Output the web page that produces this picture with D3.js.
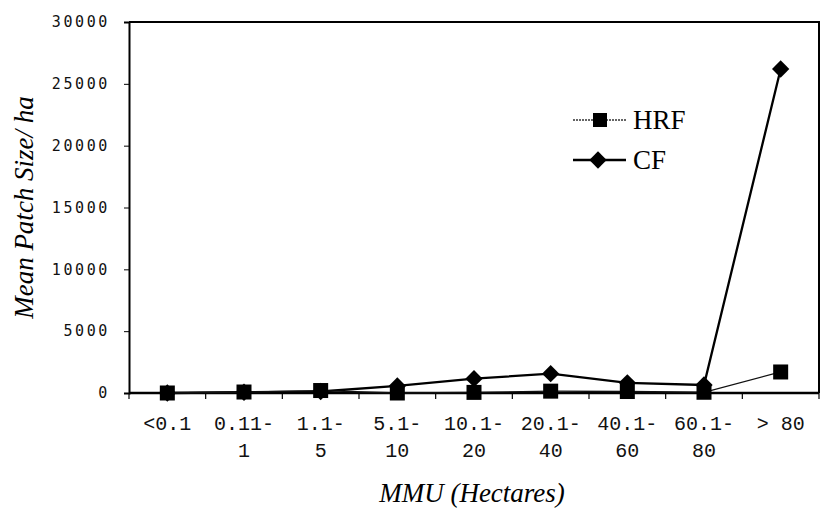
<!DOCTYPE html>
<meta charset="utf-8">
<script src="https://d3js.org/d3.v7.min.js"></script>
<style>
  body { margin: 0; background: #fff; }
</style>
<div id="chart"></div>
<script>

// data
const categories = ["<0.1", "0.11-|1", "1.1-|5", "5.1-|10", "10.1-|20", "20.1-|40", "40.1-|60", "60.1-|80", "> 80"];
const hrfValues = [0, 80, 200, 0, 50, 150, 120, 60, 1700];
const cfValues = [0, 60, 120, 570, 1160, 1560, 820, 650, 26200];
const yTicks = [0, 5000, 10000, 15000, 20000, 25000, 30000];

const serif = "'Liberation Serif', 'Times New Roman', Times, 'DejaVu Serif', serif";
const mono = "'Liberation Mono', 'Courier New', Courier, monospace";

const width = 824, height = 516;
const margin = {top: 22, right: 5, bottom: 123, left: 129};
const w = width - margin.left - margin.right,
      h = height - margin.top - margin.bottom;

const svg = d3.select("#chart").append("svg")
    .attr("width", width)
    .attr("height", height);

const g = svg.append("g")
    .attr("transform", `translate(${margin.left},${margin.top})`);

const x = d3.scaleBand().domain(categories).range([0, w]);
const y = d3.scaleLinear().domain([0, 30000]).range([h, 0]);

// frame: top and right border
g.append("path")
  .attr("d", `M0,0H${w}V${h}`)
  .attr("fill", "none")
  .attr("stroke", "#000")
  .attr("stroke-width", 2);

// y axis
const yAxis = g.append("g")
  .call(d3.axisLeft(y).tickValues(yTicks).tickSize(5).tickPadding(14).tickFormat(d3.format("d")));
yAxis.select(".domain").attr("stroke-width", 2);
yAxis.selectAll("text")
  .attr("font-family", "'DejaVu Sans Mono', monospace")
  .attr("font-size", "15px")
  .attr("letter-spacing", "2.6px")
  .attr("fill", "#111");

// x axis, ticks sit between categories
const xAxis = g.append("g")
  .attr("transform", `translate(0,${h})`);
xAxis.append("line")
  .attr("x1", 0).attr("x2", w)
  .attr("stroke", "#000").attr("stroke-width", 2.5);
xAxis.selectAll(".tick")
  .data(d3.range(categories.length + 1))
  .join("line")
    .attr("x1", i => i * x.step()).attr("x2", i => i * x.step())
    .attr("y1", 0).attr("y2", 6)
    .attr("stroke", "#000").attr("stroke-width", 1.2);

const lab = xAxis.selectAll(".lab")
  .data(categories)
  .join("text")
    .attr("text-anchor", "middle")
    .attr("font-family", mono)
    .attr("font-size", "20px")
    .attr("fill", "#111")
    .attr("transform", d => `translate(${x(d) + x.bandwidth() / 2},0)`);
lab.selectAll("tspan")
  .data(d => d.split("|"))
  .join("tspan")
    .attr("x", 0)
    .attr("y", (d, i) => 37 + i * 27)
    .attr("xml:space", "preserve")
    .text(d => d);

// lines
const line = vals => d3.line()
  .x((d, i) => x(categories[i]) + x.bandwidth() / 2)
  .y(d => y(d))(vals);

g.append("path")
  .attr("d", line(cfValues))
  .attr("fill", "none")
  .attr("stroke", "#000")
  .attr("stroke-width", 2.3);

// diamond = square turned 45 degrees
const diamond = d3.symbol().type(d3.symbolSquare).size(150);
g.selectAll(".cf")
  .data(cfValues)
  .join("path")
    .attr("d", diamond)
    .attr("transform", (d, i) => `translate(${x(categories[i]) + x.bandwidth() / 2},${y(d)}) rotate(45)`)
    .attr("fill", "#000");

g.append("path")
  .attr("d", line(hrfValues))
  .attr("fill", "none")
  .attr("stroke", "#111")
  .attr("stroke-width", 1.3);

g.selectAll(".hrf")
  .data(hrfValues)
  .join("rect")
    .attr("x", (d, i) => x(categories[i]) + x.bandwidth() / 2 - 7.5)
    .attr("y", d => y(d) - 7.5)
    .attr("width", 15).attr("height", 15)
    .attr("fill", "#000");

// legend
const leg = svg.append("g");
leg.append("line").attr("x1", 573).attr("x2", 626).attr("y1", 120).attr("y2", 120)
  .attr("stroke", "#333").attr("stroke-width", 1.3).attr("stroke-dasharray", "2,1");
leg.append("rect").attr("x", 593).attr("y", 113).attr("width", 14).attr("height", 14).attr("fill", "#000");
leg.append("text").attr("x", 633).attr("y", 129).text("HRF")
  .attr("font-family", serif).attr("font-size", "27px");
leg.append("line").attr("x1", 573).attr("x2", 626).attr("y1", 160).attr("y2", 160)
  .attr("stroke", "#000").attr("stroke-width", 2.3);
leg.append("path").attr("d", diamond).attr("transform", "translate(598,160) rotate(45)").attr("fill", "#000");
leg.append("text").attr("x", 633).attr("y", 169).text("CF")
  .attr("font-family", serif).attr("font-size", "27px");

// axis titles
svg.append("text")
  .attr("x", margin.left + w / 2 - 2).attr("y", 502)
  .attr("text-anchor", "middle")
  .attr("font-family", serif).attr("font-style", "italic").attr("font-size", "27px")
  .text("MMU (Hectares)");

svg.append("text")
  .attr("transform", `translate(33,${margin.top + h / 2}) rotate(-90)`)
  .attr("text-anchor", "middle")
  .attr("font-family", serif).attr("font-style", "italic").attr("font-size", "27px")
  .text("Mean Patch Size/ ha");

</script>
